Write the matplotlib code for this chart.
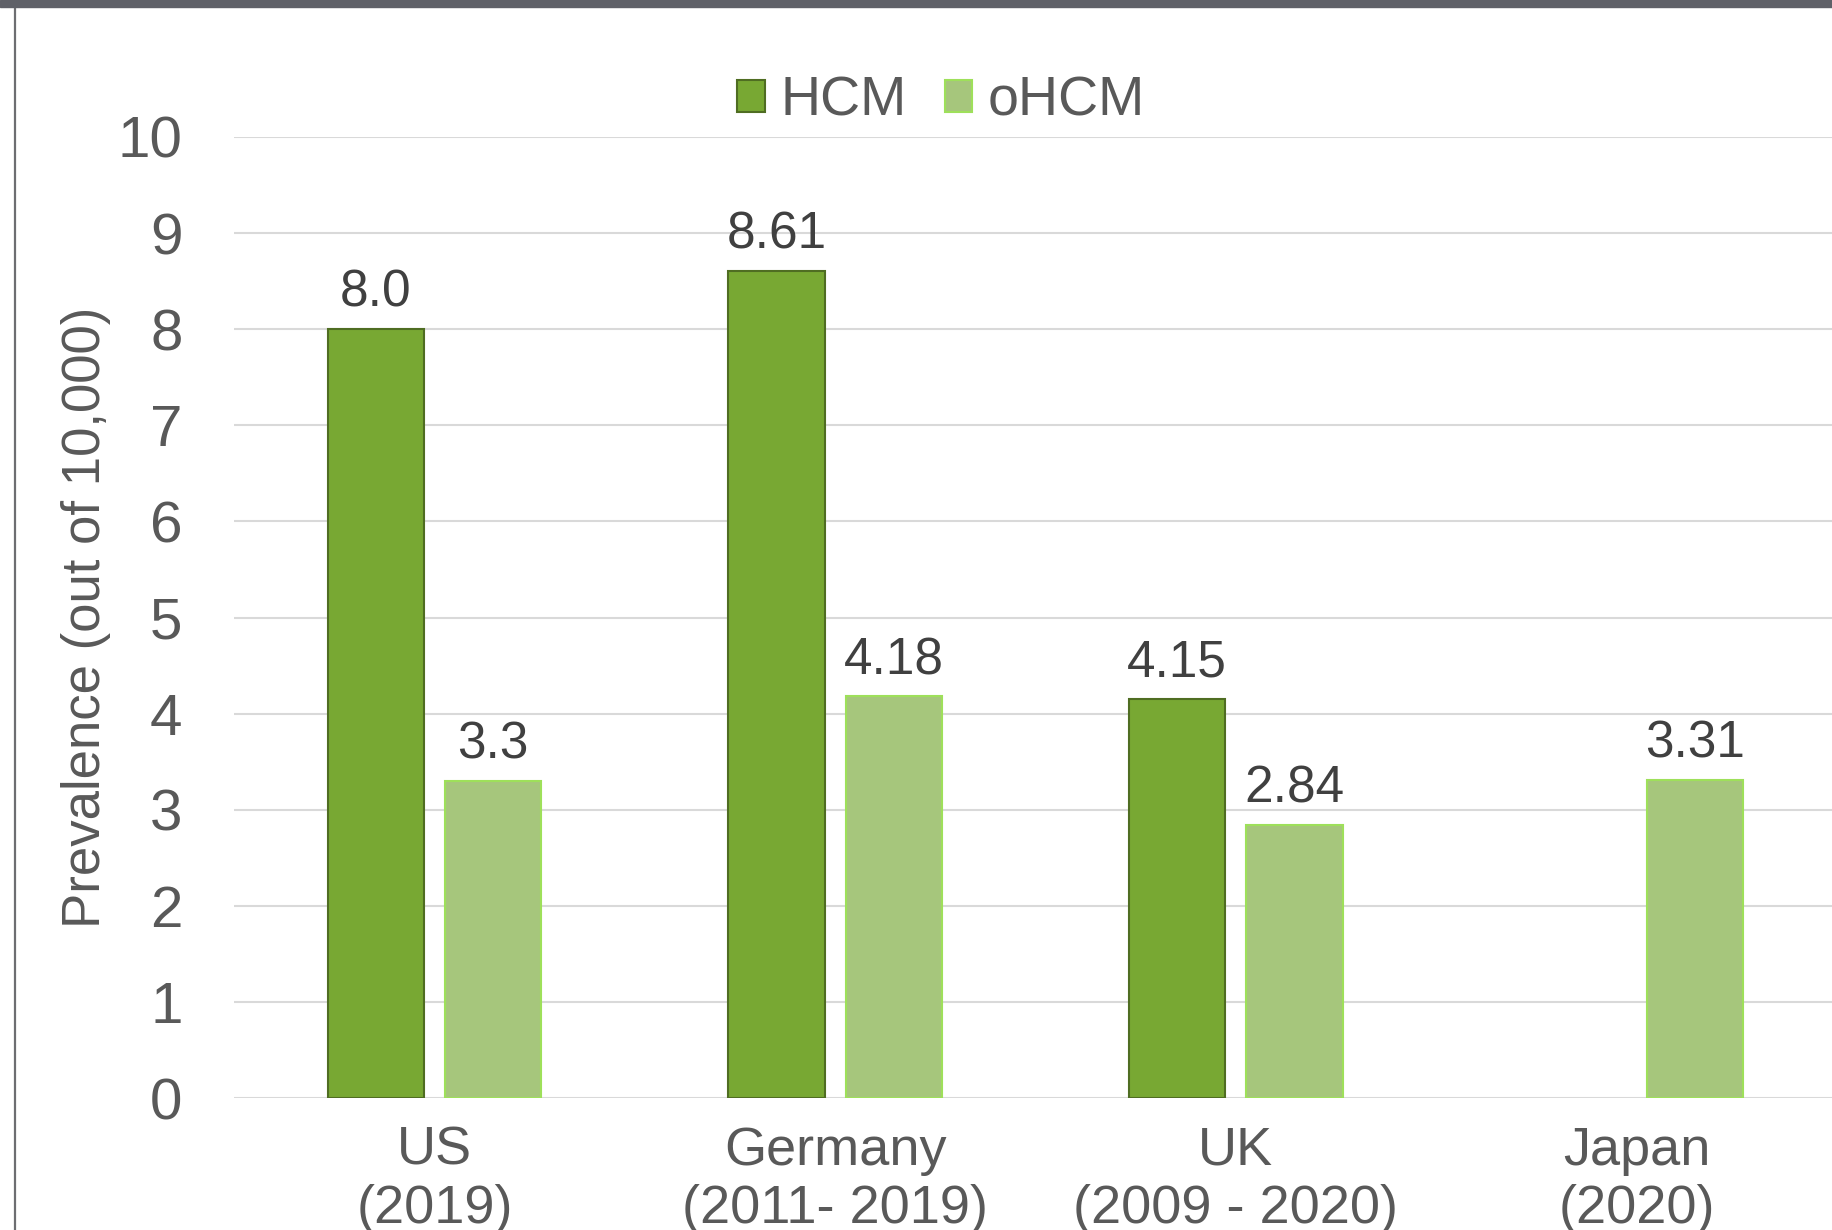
import numpy as np
import matplotlib
matplotlib.use("Agg")
import matplotlib.pyplot as plt
from matplotlib.patches import Rectangle
from matplotlib.lines import Line2D

plt.rcParams['font.family'] = ['Liberation Sans', 'DejaVu Sans']

categories = ["US\n(2019)", "Germany\n(2011- 2019)", "UK\n(2009 - 2020)", "Japan\n(2020)"]
hcm = [8.0, 8.61, 4.15, np.nan]
ohcm = [3.3, 4.18, 2.84, 3.31]
hcm_labels = ["8.0", "8.61", "4.15", ""]
ohcm_labels = ["3.3", "4.18", "2.84", "3.31"]
yticks = list(range(0, 11))

W, H = 1832, 1230
fig = plt.figure(figsize=(W / 100, H / 100), dpi=100)
ax = fig.add_axes([234 / W, 132 / H, (1837 - 234) / W, (1098 - 137) / H])

x = np.arange(len(categories))
bw = 0.24
off = 0.1465
b1 = ax.bar(x - off, hcm, bw, color="#78a833", edgecolor="#4f6d22", linewidth=1.5,
            label="HCM", zorder=3)
b2 = ax.bar(x + off, ohcm, bw, color="#a6c67c", edgecolor="#9ee05a", linewidth=1.5,
            label="oHCM", zorder=3)

for xi, v, t in zip(x - off, hcm, hcm_labels):
    if not np.isnan(v):
        ax.annotate(t, (xi, v), xytext=(0, 16), textcoords="offset points",
                    ha="center", va="baseline", fontsize=37, color="#404040")
for xi, v, t in zip(x + off, ohcm, ohcm_labels):
    ax.annotate(t, (xi, v), xytext=(0, 16), textcoords="offset points",
                ha="center", va="baseline", fontsize=37, color="#404040")

ax.set_xlim(-0.5, len(categories) - 0.5)
ax.set_ylim(0, 10)
ax.set_yticks(yticks)
ax.set_yticklabels([str(t) for t in yticks])
ax.set_xticks(x)
ax.set_xticklabels(categories, linespacing=1.2)
ax.tick_params(axis="y", length=0, pad=37, labelsize=42, labelcolor="#595959")
ax.tick_params(axis="x", length=0, pad=20, labelsize=39, labelcolor="#595959")
ax.grid(axis="y", color="#d9d9d9", linewidth=1.5, zorder=0)
ax.set_axisbelow(True)
for s in ax.spines.values():
    s.set_visible(False)

ax.set_ylabel("Prevalence (out of 10,000)", fontsize=38, color="#595959")
ax.yaxis.set_label_coords(-0.0766, 0.5)

leg = fig.legend(handles=[b1, b2], labels=["HCM", "oHCM"], loc="center",
                 bbox_to_anchor=(941 / W, 1 - 102 / H), ncol=2, frameon=False,
                 fontsize=40, handlelength=0.5, handleheight=0.5,
                 handletextpad=0.27, columnspacing=0.69, borderpad=0)
for t in leg.get_texts():
    t.set_color("#595959")

# frame decorations
fig.add_artist(Rectangle((0, 1 - 7 / H), 1, 7 / H, transform=fig.transFigure,
                         color="#5f6168", zorder=10))
fig.add_artist(Line2D([15 / W, 15 / W], [0, 1], transform=fig.transFigure,
                      color="#6d6e71", linewidth=1.6, zorder=9))

fig.savefig("out.png", dpi=100)
